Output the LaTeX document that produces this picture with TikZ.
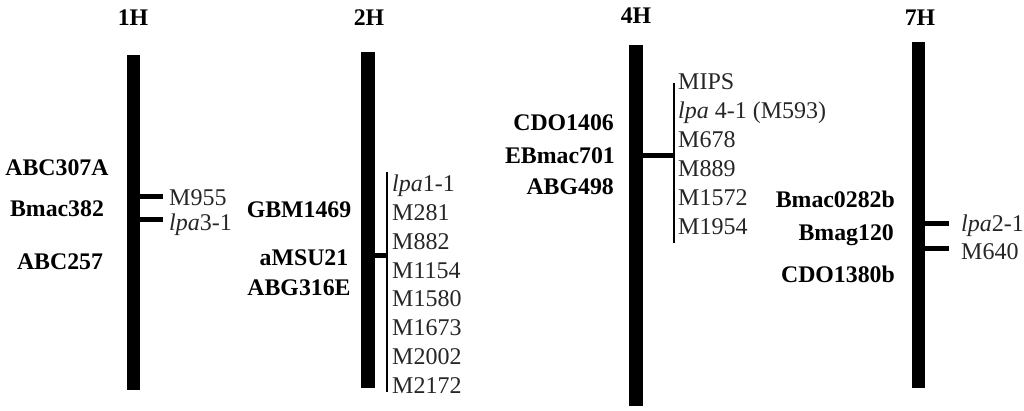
\documentclass[tikz,border=0pt]{standalone}
\usepackage{fontspec}
\setmainfont{Liberation Serif}
\begin{document}
\begin{tikzpicture}[x=1pt,y=-1pt,
  chrom/.style={fill=black,draw=none},
  tickln/.style={line width=5pt},
  thinln/.style={line width=1.2pt},
  lab/.style={font=\fontsize{24}{28}\selectfont,inner sep=0pt,text height=16.2pt,text depth=0pt,text=black!85},
  mk/.style={lab,anchor=west},
  blab/.style={lab,text=black,font=\fontsize{23.8}{28}\selectfont\bfseries},
  ttl/.style={blab}]
\useasboundingbox (0,0) rectangle (1024,411);
% ---- 1H
\node[ttl] (t1) at (133,17) {1H};
\fill[chrom] (127,55) rectangle (140,390);
\coordinate (c1a) at (140,197); \coordinate (c1ae) at (163,197);
\coordinate (c1b) at (140,220); \coordinate (c1be) at (163,220);
\draw[tickln] (c1a) -- (c1ae);
\draw[tickln] (c1b) -- (c1be);
\node[mk] (m1a) at (169,197) {M955};
\node[mk] (m1b) at (169,222) {\textit{lpa}3-1};
\node[blab] (l1a) at (57,167) {ABC307A};
\node[blab] (l1b) at (57,208) {Bmac382};
\node[blab] (l1c) at (60,261) {ABC257};
% ---- 2H
\node[ttl] (t2) at (369,17) {2H};
\fill[chrom] (361,52) rectangle (375,388);
\coordinate (c2a) at (374,256); \coordinate (c2ae) at (387.6,256);
\draw[tickln] (c2a) -- (c2ae);
\coordinate (v2t) at (387,172); \coordinate (v2b) at (387,392);
\draw[thinln] (v2t) -- (v2b);
\node[mk] (m2a) at (392,183) {\textit{lpa}1-1};
\node[mk] (m2b) at (392,212) {M281};
\node[mk] (m2c) at (392,241) {M882};
\node[mk] (m2d) at (392,270) {M1154};
\node[mk] (m2e) at (392,298) {M1580};
\node[mk] (m2f) at (392,327) {M1673};
\node[mk] (m2g) at (392,356) {M2002};
\node[mk] (m2h) at (392,385) {M2172};
\node[blab] (l2a) at (299,209) {GBM1469};
\node[blab] (l2b) at (304,257) {aMSU21};
\node[blab] (l2c) at (299,287) {ABG316E};
% ---- 4H
\node[ttl] (t4) at (636,15) {4H};
\fill[chrom] (629,45) rectangle (643,406);
\coordinate (c4a) at (642,156); \coordinate (c4ae) at (674.6,156);
\draw[tickln] (c4a) -- (c4ae);
\coordinate (v4t) at (674,83); \coordinate (v4b) at (674,243);
\draw[thinln] (v4t) -- (v4b);
\node[mk] (m4a) at (678,81) {MIPS};
\node[mk] (m4b) at (678,110) {\textit{lpa} 4-1 (M593)};
\node[mk] (m4c) at (678,139) {M678};
\node[mk] (m4d) at (678,168) {M889};
\node[mk] (m4e) at (678,197) {M1572};
\node[mk] (m4f) at (678,226) {M1954};
\node[blab,anchor=east] (l4a) at (614,122) {CDO1406};
\node[blab,anchor=east] (l4b) at (615,155) {EBmac701};
\node[blab,anchor=east] (l4c) at (614,186) {ABG498};
% ---- 7H
\node[ttl] (t7) at (920,17) {7H};
\fill[chrom] (912,42) rectangle (925,388);
\coordinate (c7a) at (925,224); \coordinate (c7ae) at (949,224);
\coordinate (c7b) at (925,249); \coordinate (c7be) at (949,249);
\draw[tickln] (c7a) -- (c7ae);
\draw[tickln] (c7b) -- (c7be);
\node[mk] (m7a) at (961,223) {\textit{lpa}2-1};
\node[mk] (m7b) at (961,251) {M640};
\node[blab,anchor=east] (l7a) at (895,199) {Bmac0282b};
\node[blab,anchor=east] (l7b) at (894,232) {Bmag120};
\node[blab,anchor=east] (l7c) at (895,274) {CDO1380b};
\end{tikzpicture}
\end{document}
